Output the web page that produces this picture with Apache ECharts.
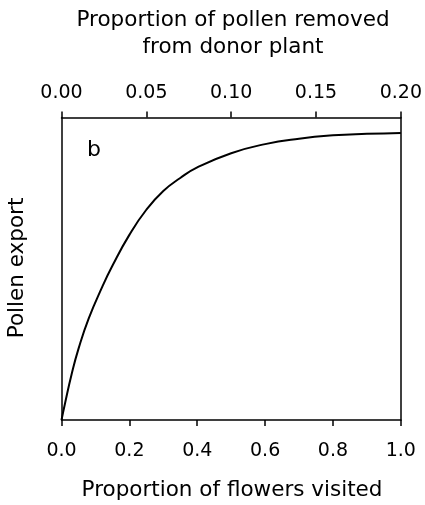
<!DOCTYPE html>
<html>
<head>
<meta charset="utf-8">
<script src="https://cdn.jsdelivr.net/npm/echarts@6/dist/echarts.min.js"></script>
<style>html,body{margin:0;padding:0;background:#fff;}#c{width:425px;height:505px;}</style>
</head>
<body>
<div id="c"></div>
<script>
// Data
var flowersVisited = [0, 0.01, 0.03, 0.05, 0.08, 0.12, 0.15, 0.20, 0.25, 0.30, 0.35, 0.40, 0.50, 0.60, 0.70, 0.80, 0.90, 1.00];
var pollenExport   = [0, 0.053, 0.152, 0.235, 0.335, 0.44, 0.51, 0.612, 0.695, 0.757, 0.80, 0.835, 0.882, 0.912, 0.930, 0.941, 0.946, 0.949];
var bottomTicks = [0, 0.2, 0.4, 0.6, 0.8, 1.0];
var topTicks = [0, 0.05, 0.10, 0.15, 0.20];
var topTitle = ['Proportion of pollen removed', 'from donor plant'];
var bottomTitle = 'Proportion of flowers visited';
var leftTitle = 'Pollen export';
var panelLabel = 'b';

var FONT = '"DejaVu Sans", sans-serif';
var chart = echarts.init(document.getElementById('c'), null, {renderer: 'canvas'});
var lineStyle = {color: '#000', width: 1.5};
var pts = flowersVisited.map(function (x, i) { return [x, pollenExport[i]]; });

chart.setOption({
  animation: false,
  backgroundColor: '#fff',
  grid: {left: 61.5, right: 21, top: 117.5, bottom: 85, containLabel: false},
  xAxis: [
    {
      type: 'value', position: 'bottom', min: 0, max: 1, interval: 0.2,
      axisLine: {show: true, onZero: false, lineStyle: lineStyle},
      axisTick: {show: true, inside: false, length: 6, lineStyle: lineStyle},
      axisLabel: {margin: 22, color: '#000', fontFamily: FONT, fontSize: 19,
        formatter: function (v) { return v.toFixed(1); }},
      splitLine: {show: false}
    },
    {
      type: 'value', position: 'top', min: 0, max: 0.2, interval: 0.05,
      axisLine: {show: true, onZero: false, lineStyle: lineStyle},
      axisTick: {show: true, inside: false, length: 6, lineStyle: lineStyle},
      axisLabel: {margin: 15, color: '#000', fontFamily: FONT, fontSize: 19,
        formatter: function (v) { return v.toFixed(2); }},
      splitLine: {show: false}
    }
  ],
  yAxis: [
    {
      type: 'value', position: 'left', min: 0, max: 1,
      axisLine: {show: true, onZero: false, lineStyle: lineStyle},
      axisTick: {show: false}, axisLabel: {show: false}, splitLine: {show: false}
    },
    {
      type: 'value', position: 'right', min: 0, max: 1,
      axisLine: {show: true, onZero: false, lineStyle: lineStyle},
      axisTick: {show: false}, axisLabel: {show: false}, splitLine: {show: false}
    }
  ],
  series: [{
    type: 'line', xAxisIndex: 0, yAxisIndex: 0, data: pts,
    smooth: true, showSymbol: false, symbol: 'none',
    lineStyle: {color: '#000', width: 2}
  }],
  graphic: [
    {type: 'text', x: 233, y: 20.5, style: {text: topTitle[0], fill: '#000', font: '21.5px ' + FONT, align: 'center', verticalAlign: 'middle'}},
    {type: 'text', x: 233, y: 47.5, style: {text: topTitle[1], fill: '#000', font: '21.5px ' + FONT, align: 'center', verticalAlign: 'middle'}},
    {type: 'text', x: 232, y: 490.5, style: {text: bottomTitle, fill: '#000', font: '21.5px ' + FONT, align: 'center', verticalAlign: 'middle'}},
    {type: 'text', x: 17, y: 268, rotation: Math.PI / 2, style: {text: leftTitle, fill: '#000', font: '21.5px ' + FONT, align: 'center', verticalAlign: 'middle'}},
    {type: 'text', x: 94, y: 150, style: {text: panelLabel, fill: '#000', font: '22px ' + FONT, align: 'center', verticalAlign: 'middle'}}
  ]
});
</script>
</body>
</html>
